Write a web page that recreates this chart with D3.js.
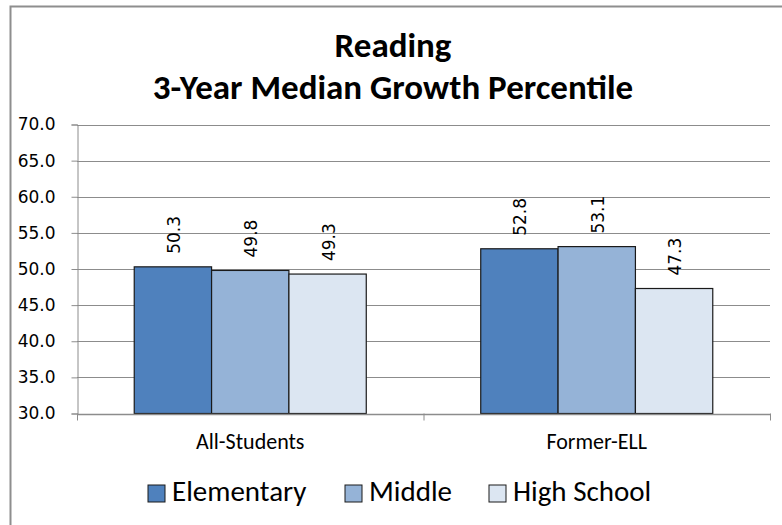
<!DOCTYPE html>
<html>
<head>
<meta charset="utf-8">
<script src="https://cdn.jsdelivr.net/npm/d3@7"></script>
<style>
  html, body { margin: 0; padding: 0; background: #fff; }
  svg { display: block; }
</style>
</head>
<body>
<svg id="chart" width="782" height="525"></svg>
<script>
// Data
const titleLines = ["Reading", "3-Year Median Growth Percentile"];
const categories = ["All-Students", "Former-ELL"];
const seriesNames = ["Elementary", "Middle", "High School"];
const elementary = [50.3, 52.8];
const middle = [49.8, 53.1];
const highSchool = [49.3, 47.3];
const yTicks = [30, 35, 40, 45, 50, 55, 60, 65, 70];
const colors = ["#4F81BD", "#95B3D7", "#DCE6F2"];

const seriesValues = [elementary, middle, highSchool];

const svg = d3.select("#chart");
const W = 782, H = 525;
const plot = { left: 77, right: 770, top: 124.5, bottom: 413.5 };

// Outer chart frame (left and top edges visible)
svg.append("path")
  .attr("d", `M10.5,${H} V6.5 H${W}`)
  .attr("fill", "none")
  .attr("stroke", "#8e8e8e")
  .attr("stroke-width", 2);

// Title
const calibri = "Carlito, Calibri, 'Liberation Sans Narrow', 'Liberation Sans', Arial, sans-serif";
const dejavu = "'DejaVu Sans', Verdana, sans-serif";
svg.append("g").selectAll("text")
  .data(titleLines)
  .join("text")
  .attr("x", 393)
  .attr("y", (d, i) => 57 + i * 42)
  .attr("text-anchor", "middle")
  .attr("font-family", calibri)
  .attr("font-weight", "bold")
  .attr("font-size", 35)
  .attr("fill", "#000")
  .text(d => d);

// Scales
const x0 = d3.scaleBand().domain(categories).range([plot.left, plot.right]).paddingInner(0).paddingOuter(0);
const x1 = d3.scaleBand().domain(seriesNames).range([0, x0.bandwidth()]).paddingInner(0).paddingOuter(0.74);
const y = d3.scaleLinear().domain([30, 70]).range([plot.bottom, plot.top]);

// Gridlines
svg.append("g").selectAll("line")
  .data(yTicks.filter(t => t > 30))
  .join("line")
  .attr("x1", plot.left).attr("x2", plot.right)
  .attr("y1", d => Math.round(y(d)) + 0.5).attr("y2", d => Math.round(y(d)) + 0.5)
  .attr("stroke", "#8c8c8c").attr("stroke-width", 1);

// Y axis
const yAxis = svg.append("g")
  .attr("transform", `translate(${plot.left + 0.5},0)`)
  .call(d3.axisLeft(y).tickValues(yTicks).tickFormat(d3.format(".1f")).tickSize(6).tickPadding(16));
yAxis.select(".domain").attr("stroke", "#8c8c8c");
yAxis.selectAll(".tick line").attr("stroke", "#8c8c8c");
yAxis.selectAll(".tick text")
  .attr("font-family", dejavu)
  .attr("font-size", 17)
  .attr("fill", "#000");

// Bars
const groups = svg.append("g").selectAll("g")
  .data(categories.map((c, ci) => ({ c, vals: seriesValues.map((s, si) => ({ name: seriesNames[si], v: s[ci], si })) })))
  .join("g")
  .attr("transform", d => `translate(${x0(d.c)},0)`);

groups.selectAll("rect")
  .data(d => d.vals)
  .join("rect")
  .attr("x", d => x1(d.name))
  .attr("y", d => y(d.v))
  .attr("width", x1.bandwidth())
  .attr("height", d => y(30) - y(d.v))
  .attr("fill", d => colors[d.si])
  .attr("stroke", "#1a1a1a")
  .attr("stroke-width", 1.2);

// Value labels (rotated)
groups.selectAll("text.val")
  .data(d => d.vals)
  .join("text")
  .attr("class", "val")
  .attr("transform", d => `translate(${x1(d.name) + x1.bandwidth() / 2 + 7},${y(d.v) - 13}) rotate(-90)`)
  .attr("text-anchor", "start")
  .attr("font-family", dejavu)
  .attr("font-size", 17)
  .attr("fill", "#000")
  .text(d => d.v.toFixed(1));

// X axis
const xAxis = svg.append("g")
  .attr("transform", `translate(0,${plot.bottom + 0.5})`)
  .call(d3.axisBottom(x0).tickSize(0).tickPadding(0));
xAxis.select(".domain").attr("stroke", "#8c8c8c").attr("stroke-width", 1.5);
xAxis.selectAll(".tick text")
  .attr("dy", null)
  .attr("y", 449 - plot.bottom - 0.5)
  .attr("font-family", calibri)
  .attr("font-size", 22)
  .attr("fill", "#000");
// Category separators
svg.append("g").selectAll("line")
  .data([plot.left, x0(categories[1]), plot.right])
  .join("line")
  .attr("x1", d => d + 0.5).attr("x2", d => d + 0.5)
  .attr("y1", plot.bottom).attr("y2", plot.bottom + 7)
  .attr("stroke", "#8c8c8c");

// Legend
const legendX = [148, 345, 489];
const legend = svg.append("g").selectAll("g")
  .data(seriesNames)
  .join("g")
  .attr("transform", (d, i) => `translate(${legendX[i]},485)`);
legend.append("rect")
  .attr("width", 17).attr("height", 17)
  .attr("fill", (d, i) => colors[i])
  .attr("stroke", "#1a1a1a").attr("stroke-width", 1);
legend.append("text")
  .attr("x", 24).attr("y", 16)
  .attr("font-family", calibri)
  .attr("font-size", 29)
  .attr("fill", "#000")
  .text(d => d);
</script>
</body>
</html>
